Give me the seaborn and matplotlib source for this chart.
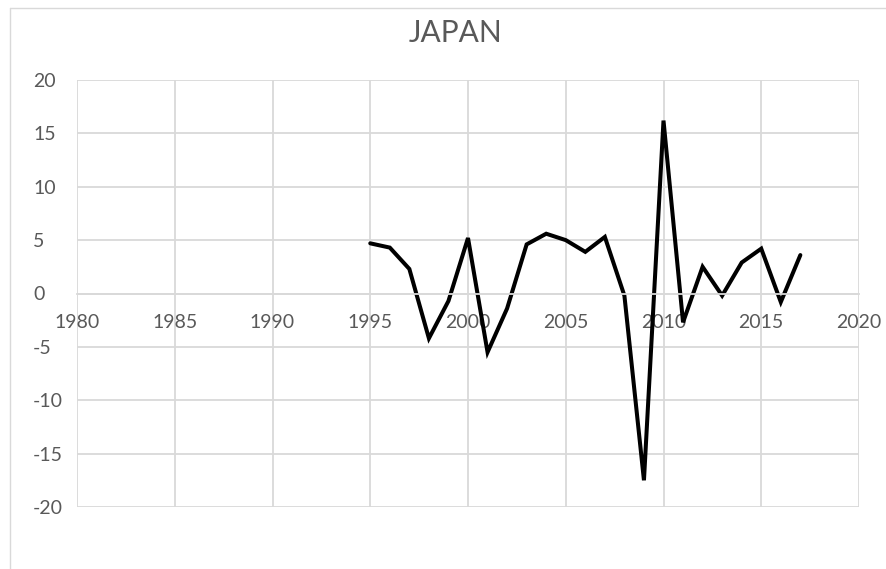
import matplotlib
matplotlib.use("Agg")
import matplotlib.pyplot as plt
import matplotlib.lines as mlines
import pandas as pd
import seaborn as sns

# Annual change (%) for Japan
years = [1995, 1996, 1997, 1998, 1999, 2000, 2001, 2002, 2003, 2004, 2005, 2006,
         2007, 2008, 2009, 2010, 2011, 2012, 2013, 2014, 2015, 2016, 2017]
values = [4.7, 4.3, 2.3, -4.2, -0.7, 5.2, -5.5, -1.4, 4.6, 5.6, 5.0, 3.9,
          5.3, -0.2, -17.5, 16.2, -2.7, 2.5, -0.2, 2.9, 4.2, -0.8, 3.6]
x_ticks = [1980, 1985, 1990, 1995, 2000, 2005, 2010, 2015, 2020]
y_ticks = [-20, -15, -10, -5, 0, 5, 10, 15, 20]
title = "JAPAN"

sns.set_theme(style="white")
plt.rcParams["font.family"] = ["Lato", "DejaVu Sans"]

grid_c = "#D9D9D9"
text_c = "#595959"

df = pd.DataFrame({"year": years, "value": values})

fig = plt.figure(figsize=(8.86, 5.69), dpi=100)
W, H = 886, 569
ax = fig.add_axes([77 / W, (H - 507) / H, 782 / W, 427 / H])

sns.lineplot(data=df, x="year", y="value", ax=ax, color="black",
             linewidth=2.9, solid_joinstyle="miter")

ax.set_xlim(x_ticks[0], x_ticks[-1])
ax.set_ylim(y_ticks[0], y_ticks[-1])
ax.set_xticks(x_ticks)
ax.set_yticks(y_ticks)
ax.set_xticklabels([str(v) for v in x_ticks])
ax.set_yticklabels([str(v) for v in y_ticks])
ax.set_xlabel("")
ax.set_ylabel("")

ax.grid(True, color=grid_c, linewidth=1.3)
ax.set_axisbelow(True)
for side in ["top", "right", "left"]:
    ax.spines[side].set_visible(False)
ax.spines["bottom"].set_position(("data", 0))
ax.spines["bottom"].set_color(grid_c)
ax.spines["bottom"].set_linewidth(1.3)

ax.tick_params(axis="x", length=0, pad=15, labelsize=14, labelcolor=text_c)
ax.tick_params(axis="y", length=0, pad=31.5, labelsize=14, labelcolor=text_c)
for lbl in ax.get_yticklabels():
    lbl.set_horizontalalignment("left")

fig.text(456 / W, 1 - 33 / H, title, ha="center", va="center",
         fontsize=21.5, color=text_c)

# chart frame
fig.add_artist(mlines.Line2D([10 / W, 1], [1 - 8 / H, 1 - 8 / H],
                             transform=fig.transFigure, color=grid_c, linewidth=1))
fig.add_artist(mlines.Line2D([10 / W, 10 / W], [0, 1 - 8 / H],
                             transform=fig.transFigure, color=grid_c, linewidth=1))

fig.savefig("out.png", dpi=100)
